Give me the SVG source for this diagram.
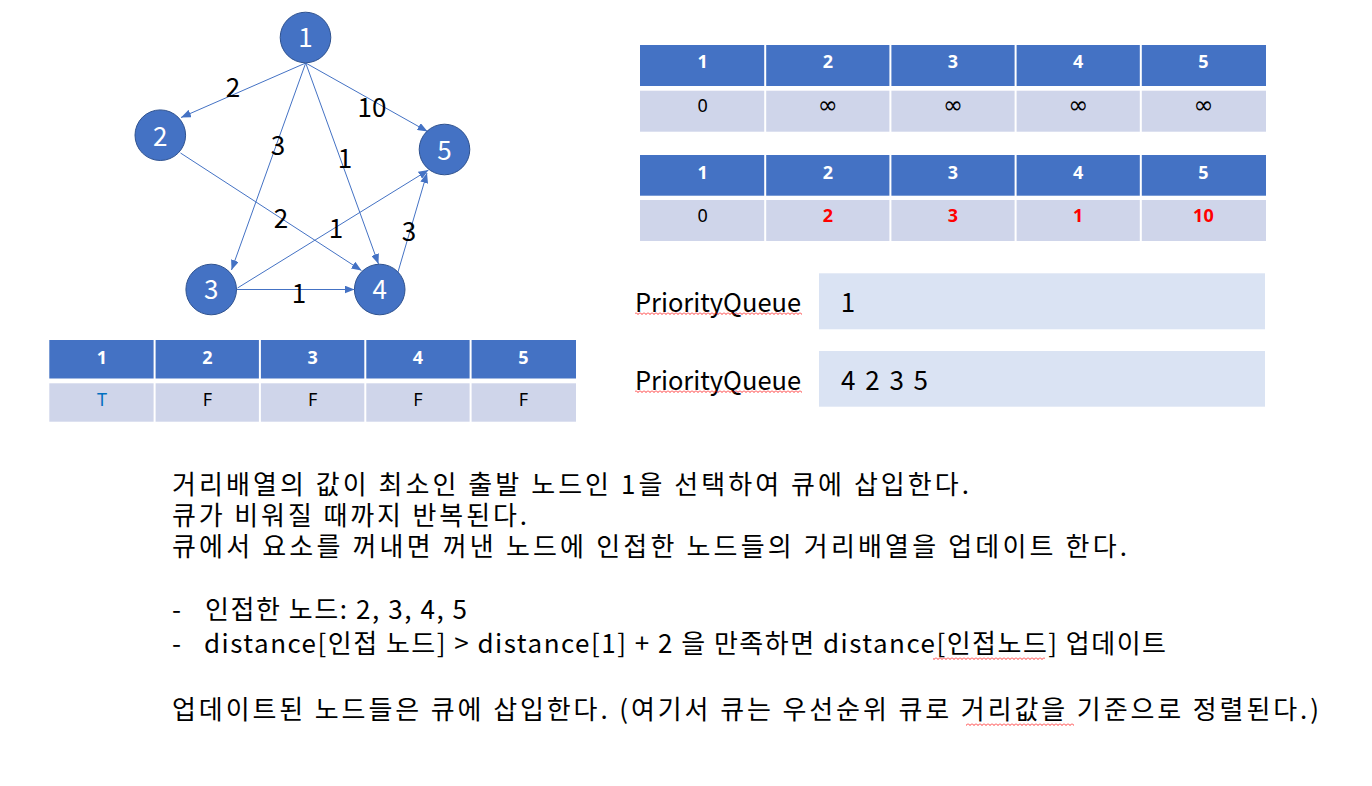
<svg xmlns="http://www.w3.org/2000/svg" width="1372" height="786" viewBox="0 0 1372 786">
<style>
text { font-family: "Noto Sans CJK KR", "Noto Sans", sans-serif; }
.node circle { fill: #4472C4; stroke: #2F528F; stroke-width: 1; }
.nl { fill: #fff; font-size: 26px; text-anchor: middle; }
.edge { stroke: #4472C4; stroke-width: 1; fill: none; marker-end: url(#arr); }
.el { fill: #000; font-size: 26px; text-anchor: middle; }
.hdr { fill: #4472C4; }
.bdy { fill: #CFD5EA; }
.sep { stroke: #fff; stroke-width: 2; }
.th { fill: #fff; font-weight: bold; font-size: 18px; text-anchor: middle; font-family: "Noto Sans", "DejaVu Sans", sans-serif; }
.td { fill: #000; font-size: 18px; text-anchor: middle; font-family: "Noto Sans", "DejaVu Sans", sans-serif; }
.inf { font-size: 24px; font-family: "DejaVu Sans", sans-serif; }
.red { fill: #FF0000; font-weight: bold; }
.blue { fill: #0070C0; }
.pq { fill: #DAE3F3; }
.txt { fill: #000; font-size: 26px; }
.wavy { fill: url(#wave); }
</style>
<defs>
<marker id="arr" markerWidth="10" markerHeight="8" refX="10" refY="4" orient="auto" markerUnits="userSpaceOnUse">
<path d="M0,0 L10,4 L0,8 z" fill="#4472C4"/>
</marker>
<pattern id="wave" width="4" height="3" patternUnits="userSpaceOnUse">
<path d="M0,0.5 L2,2.5 L4,0.5" stroke="#FF0000" stroke-width="0.8" fill="none"/>
</pattern>
</defs>
<rect width="1372" height="786" fill="#fff"/>

<g id="connectors">
<line class="edge" x1="305.7" y1="63" x2="181" y2="117.5"/>
<line class="edge" x1="305.7" y1="63" x2="231.5" y2="270"/>
<line class="edge" x1="305.7" y1="63" x2="378.5" y2="264"/>
<line class="edge" x1="305.7" y1="63" x2="427.5" y2="131.5"/>
<line class="edge" x1="180.5" y1="153" x2="361.5" y2="270.5"/>
<line class="edge" x1="237.5" y1="288" x2="428.5" y2="170"/>
<line class="edge" x1="236.5" y1="289.5" x2="354.5" y2="289.5"/>
<line class="edge" x1="398" y1="272" x2="427" y2="173"/>
<text class="el" x="233" y="96.7">2</text>
<text class="el" x="372" y="116.7">10</text>
<text class="el" x="278" y="155">3</text>
<text class="el" x="345" y="168">1</text>
<text class="el" x="281" y="228">2</text>
<text class="el" x="336" y="238">1</text>
<text class="el" x="409" y="241">3</text>
<text class="el" x="299" y="303">1</text>
</g>

<g id="node1" class="node"><circle cx="305.5" cy="37.5" r="25.3"/><text class="nl" x="305.5" y="47">1</text></g>
<g id="node2" class="node"><circle cx="160.3" cy="135.2" r="25.3"/><text class="nl" x="160.3" y="145.5">2</text></g>
<g id="node3" class="node"><circle cx="211.2" cy="289.5" r="25.3"/><text class="nl" x="211.2" y="299.3">3</text></g>
<g id="node4" class="node"><circle cx="379.7" cy="289.5" r="25.3"/><text class="nl" x="379.7" y="299.3">4</text></g>
<g id="node5" class="node"><circle cx="444.5" cy="149.5" r="25.3"/><text class="nl" x="444.5" y="160">5</text></g>

<g id="visited-table">
<rect class="hdr" x="49.3" y="340" width="526.7" height="38.5"/>
<rect class="bdy" x="49.3" y="383.3" width="526.7" height="38.4"/>
<line class="sep" x1="154.6" y1="338" x2="154.6" y2="424"/>
<line class="sep" x1="259.9" y1="338" x2="259.9" y2="424"/>
<line class="sep" x1="365.3" y1="338" x2="365.3" y2="424"/>
<line class="sep" x1="470.6" y1="338" x2="470.6" y2="424"/>
<text class="th" x="102" y="364">1</text>
<text class="th" x="207.3" y="364">2</text>
<text class="th" x="312.6" y="364">3</text>
<text class="th" x="418" y="364">4</text>
<text class="th" x="523.3" y="364">5</text>
<text class="td blue" x="102" y="405.7">T</text>
<text class="td" x="207.3" y="405.7">F</text>
<text class="td" x="312.6" y="405.7">F</text>
<text class="td" x="418" y="405.7">F</text>
<text class="td" x="523.3" y="405.7">F</text>
</g>

<g id="distance-table-1">
<rect class="hdr" x="640" y="45" width="626" height="41"/>
<rect class="bdy" x="640" y="90.7" width="626" height="41"/>
<line class="sep" x1="765.2" y1="43" x2="765.2" y2="134"/>
<line class="sep" x1="890.4" y1="43" x2="890.4" y2="134"/>
<line class="sep" x1="1015.6" y1="43" x2="1015.6" y2="134"/>
<line class="sep" x1="1140.8" y1="43" x2="1140.8" y2="134"/>
<text class="th" x="702.6" y="68.3">1</text>
<text class="th" x="827.8" y="68.3">2</text>
<text class="th" x="953" y="68.3">3</text>
<text class="th" x="1078.2" y="68.3">4</text>
<text class="th" x="1203.4" y="68.3">5</text>
<text class="td" x="702.6" y="112.3">0</text>
<text class="td inf" x="827.8" y="113">∞</text>
<text class="td inf" x="953" y="113">∞</text>
<text class="td inf" x="1078.2" y="113">∞</text>
<text class="td inf" x="1203.4" y="113">∞</text>
</g>

<g id="distance-table-2">
<rect class="hdr" x="640" y="155" width="626" height="40.7"/>
<rect class="bdy" x="640" y="200" width="626" height="41"/>
<line class="sep" x1="765.2" y1="153" x2="765.2" y2="243"/>
<line class="sep" x1="890.4" y1="153" x2="890.4" y2="243"/>
<line class="sep" x1="1015.6" y1="153" x2="1015.6" y2="243"/>
<line class="sep" x1="1140.8" y1="153" x2="1140.8" y2="243"/>
<text class="th" x="702.6" y="178.5">1</text>
<text class="th" x="827.8" y="178.5">2</text>
<text class="th" x="953" y="178.5">3</text>
<text class="th" x="1078.2" y="178.5">4</text>
<text class="th" x="1203.4" y="178.5">5</text>
<text class="td" x="702.6" y="222.3">0</text>
<text class="td red" x="827.8" y="222.3">2</text>
<text class="td red" x="953" y="222.3">3</text>
<text class="td red" x="1078.2" y="222.3">1</text>
<text class="td red" x="1203.4" y="222.3">10</text>
</g>

<g id="queue-1">
<text class="txt" x="635" y="311.7" textLength="166" lengthAdjust="spacingAndGlyphs">PriorityQueue</text>
<rect class="wavy" x="635" y="312" width="167" height="3"/>
<rect class="pq" x="819" y="273.3" width="446" height="56"/>
<text class="txt" x="848" y="312" text-anchor="middle">1</text>
</g>

<g id="queue-2">
<text class="txt" x="635" y="389.7" textLength="166" lengthAdjust="spacingAndGlyphs">PriorityQueue</text>
<rect class="wavy" x="635" y="390" width="167" height="3"/>
<rect class="pq" x="819" y="351" width="446" height="55.7"/>
<text class="txt" x="841" y="389.7" textLength="87" lengthAdjust="spacing">4 2 3 5</text>
</g>

<g id="description">
<text class="txt" x="172" y="494" textLength="797" lengthAdjust="spacing">거리배열의 값이 최소인 출발 노드인 1을 선택하여 큐에 삽입한다.</text>
<text class="txt" x="172" y="525" textLength="355" lengthAdjust="spacing">큐가 비워질 때까지 반복된다.</text>
<text class="txt" x="172" y="556" textLength="955" lengthAdjust="spacing">큐에서 요소를 꺼내면 꺼낸 노드에 인접한 노드들의 거리배열을 업데이트 한다.</text>
<text class="txt" x="172" y="619">-</text>
<text class="txt" x="205" y="619" textLength="262" lengthAdjust="spacing">인접한 노드: 2, 3, 4, 5</text>
<text class="txt" x="172" y="653">-</text>
<text class="txt" x="204" y="653" textLength="962" lengthAdjust="spacing">distance[인접 노드] &gt; distance[1] + 2 을 만족하면 distance[인접노드] 업데이트</text>
<rect class="wavy" x="933" y="657" width="112" height="3"/>
<text class="txt" x="172" y="719" textLength="1147" lengthAdjust="spacing">업데이트된 노드들은 큐에 삽입한다. (여기서 큐는 우선순위 큐로 거리값을 기준으로 정렬된다.)</text>
<rect class="wavy" x="966" y="723" width="108" height="3"/>
</g>
</svg>
